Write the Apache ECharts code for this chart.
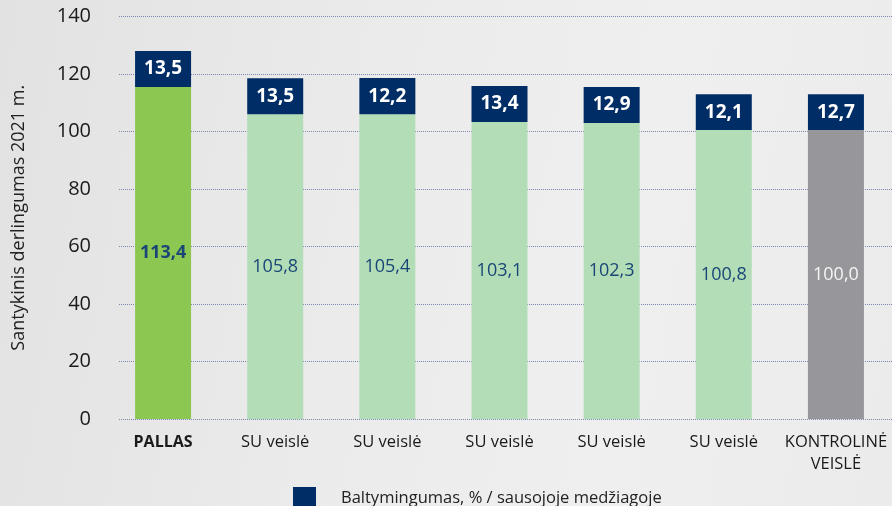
<!DOCTYPE html>
<html>
<head>
<meta charset="utf-8">
<script src="https://cdn.jsdelivr.net/npm/echarts@6/dist/echarts.min.js"></script>
<style>
html,body{margin:0;padding:0;}
body{background:linear-gradient(100deg,#e2e2e2 0%,#ebebeb 40%,#efefef 70%,#ebebeb 100%);}
#main{width:892px;height:506px;}
</style>
</head>
<body>
<div id="main"></div>
<script>
// kategorijos
var categories = ['PALLAS', 'SU veislė', 'SU veislė', 'SU veislė', 'SU veislė', 'SU veislė', 'KONTROLINĖ\nVEISLĖ'];
// stulpelio aukštis (nuskaityta nuo paveikslo)
var barHeights = [115.5, 106.0, 106.0, 103.3, 103.0, 100.5, 100.5];
// santykinis derlingumas (užrašai)
var yieldLabels = ['113,4', '105,8', '105,4', '103,1', '102,3', '100,8', '100,0'];
// baltymingumo langelio aukštis
var proteinBox = [12.5, 12.5, 12.6, 12.5, 12.5, 12.5, 12.5];
// baltymingumas
var proteinLabels = ['13,5', '13,5', '12,2', '13,4', '12,9', '12,1', '12,7'];
var yTicks = [0, 20, 40, 60, 80, 100, 120, 140];

var font = 'Open Sans';
var barColors = ['#8bc751', '#b3ddb7', '#b3ddb7', '#b3ddb7', '#b3ddb7', '#b3ddb7', '#97979b'];

var yieldData = barHeights.map(function(v, i) {
	var lbl = {
		color: i == 6 ? '#f4f4f4' : '#1a4677',
		fontWeight: i == 0 ? 'bold' : 'normal'
	};
	return {value: v, itemStyle: {color: barColors[i]}, label: lbl};
});

var chart = echarts.init(document.getElementById('main'));
var option = {
	backgroundColor: 'transparent',
	textStyle: {fontFamily: font},
	grid: [
		{left: 107, right: -7, top: 16.5, bottom: 87},
		{left: 119, right: 0, top: 16.5, bottom: 87}
	],
	legend: {
		data: ['Baltymingumas, % / sausojoje medžiagoje'],
		left: 288,
		top: 482,
		icon: 'rect',
		itemWidth: 23,
		itemHeight: 23,
		selectedMode: false,
		textStyle: {fontSize: 16.5, color: '#222', fontFamily: font, padding: [0, 0, 0, 20]}
	},
	xAxis: [{
		type: 'category',
		data: categories,
		gridIndex: 0,
		axisLine: {show: false},
		axisTick: {show: false},
		axisLabel: {
			fontSize: 16.5,
			color: '#1a1a1a',
			margin: 12,
			lineHeight: 22,
			interval: 0,
			formatter: function(v) {
				return v == 'PALLAS' ? '{b|' + v + '}' : v;
			},
			rich: {b: {fontWeight: 'bold', fontSize: 16, color: '#1a1a1a', lineHeight: 22}}
		}
	}, {
		type: 'value',
		gridIndex: 1,
		show: false
	}],
	yAxis: [{
		type: 'value',
		gridIndex: 0,
		min: 0,
		max: 140,
		interval: 20,
		name: 'Santykinis derlingumas 2021 m.',
		nameLocation: 'middle',
		nameGap: 79,
		nameTextStyle: {fontSize: 18, color: '#222'},
		axisLine: {show: false},
		axisTick: {show: false},
		splitLine: {show: false},
		axisLabel: {fontSize: 20, color: '#1a1a1a', margin: 16}
	}, {
		type: 'value',
		gridIndex: 1,
		min: 0,
		max: 140,
		interval: 20,
		axisLine: {show: false},
		axisTick: {show: false},
		axisLabel: {show: false},
		splitLine: {show: true, lineStyle: {color: '#7c86b2', type: 'dotted', width: 1}}
	}],
	series: [{
		name: 'Derlingumas',
		type: 'bar',
		stack: 'a',
		barWidth: 56,
		data: yieldData,
		label: {
			show: true,
			position: 'inside',
			fontSize: 18,
			fontFamily: font,
			formatter: function(p) { return yieldLabels[p.dataIndex]; }
		}
	}, {
		name: 'Baltymingumas, % / sausojoje medžiagoje',
		type: 'bar',
		stack: 'a',
		barWidth: 56,
		data: proteinBox,
		itemStyle: {color: '#002d66'},
		label: {
			show: true,
			position: 'inside',
			fontSize: 19,
			fontWeight: 'bold',
			color: '#ffffff',
			fontFamily: font,
			formatter: function(p) { return proteinLabels[p.dataIndex]; }
		}
	}]
};
chart.setOption(option);
</script>
</body>
</html>
